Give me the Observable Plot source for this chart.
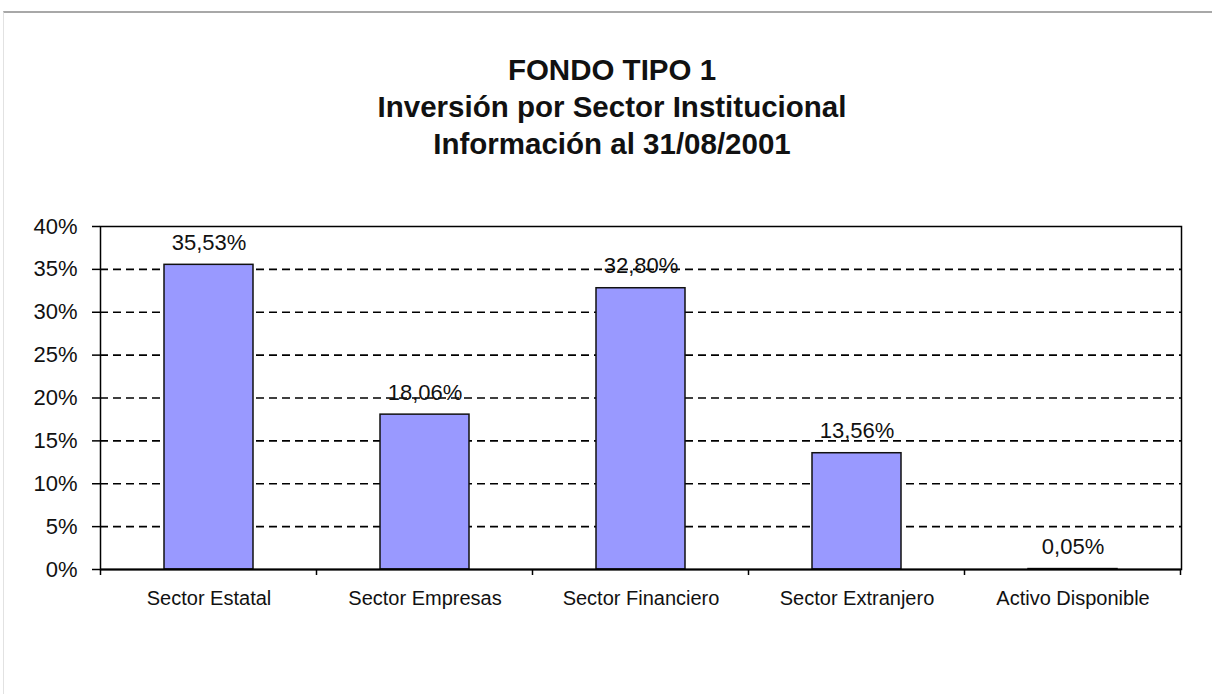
<!DOCTYPE html>
<html><head><meta charset="utf-8">
<script src="https://cdn.jsdelivr.net/npm/d3@7"></script>
<script src="https://cdn.jsdelivr.net/npm/@observablehq/plot@0.6"></script>
<style>
body{margin:0;background:#fff;width:1212px;height:694px;overflow:hidden;position:relative;font-family:"Liberation Sans",Arial,sans-serif;}
#border{position:absolute;left:3px;top:11px;right:0;bottom:0;border-top:2px solid #a8a8a8;border-left:1px solid #e2e2e2;}
#title{position:absolute;left:12px;right:0;top:51px;text-align:center;font-weight:bold;font-size:29.5px;line-height:37px;color:#111;}
#chart{position:absolute;left:0;top:180px;}
</style></head><body>
<div id="border"></div>
<div id="title">FONDO TIPO 1<br>Inversión por Sector Institucional<br>Información al 31/08/2001</div>
<div id="chart"></div>
<script>
const categories = ["Sector Estatal", "Sector Empresas", "Sector Financiero", "Sector Extranjero", "Activo Disponible"];
const values = [35.53, 18.06, 32.80, 13.56, 0.05];
const valueLabels = ["35,53%", "18,06%", "32,80%", "13,56%", "0,05%"];
const yTicks = [0, 5, 10, 15, 20, 25, 30, 35, 40];
const yTickLabels = ["0%", "5%", "10%", "15%", "20%", "25%", "30%", "35%", "40%"];
const gridLines = [5, 10, 15, 20, 25, 30, 35];

const data = categories.map((c, i) => ({category: c, value: values[i], label: valueLabels[i]}));

function boundaryTicks(index, scales) {
  const {x, y} = scales;
  const bw = x.bandwidth();
  const step = x.step ? x.step() : bw / 0.41;
  const xs = categories.map(c => x(c) + bw / 2 - step / 2);
  xs.push(x(categories[categories.length - 1]) + bw / 2 + step / 2);
  const y0 = y(0);
  const g = d3.create("svg:g");
  g.selectAll("line").data(xs).join("line")
    .attr("x1", d => d).attr("x2", d => d)
    .attr("y1", y0).attr("y2", y0 + 6)
    .attr("stroke", "#000").attr("stroke-width", 1.5);
  return g.node();
}

const chart = Plot.plot({
  width: 1212,
  height: 460,
  marginTop: 46,
  marginBottom: 71,
  marginLeft: 100,
  marginRight: 31,
  style: {fontFamily: '"Liberation Sans", Arial, sans-serif', color: "#111", background: "transparent"},
  x: {domain: categories, paddingInner: 0.59, paddingOuter: 0.295, label: null},
  y: {domain: [0, 40], label: null},
  marks: [
    Plot.ruleY(gridLines, {stroke: "#000", strokeWidth: 1.6, strokeDasharray: "8,5"}),
    Plot.barY(data, {x: "category", y: "value", fill: "#9999ff", stroke: "#111", strokeWidth: 1.5}),
    Plot.frame({stroke: "#000", strokeWidth: 1.5}),
    Plot.ruleY([0], {stroke: "#000", strokeWidth: 2}),
    Plot.text(data, {x: "category", y: "value", text: "label", dy: -15, lineAnchor: "bottom", fontSize: 22, fill: "#111"}),
    Plot.axisY({ticks: yTicks, tickFormat: (d) => yTickLabels[yTicks.indexOf(d)], tickSize: 8, tickPadding: 15, fontSize: 22, label: null, stroke: "#000", strokeWidth: 1.5}),
    Plot.axisX({tickSize: 0, tickPadding: 21, fontSize: 20, label: null}),
    boundaryTicks
  ]
});
document.getElementById("chart").appendChild(chart);
</script>
</body></html>
